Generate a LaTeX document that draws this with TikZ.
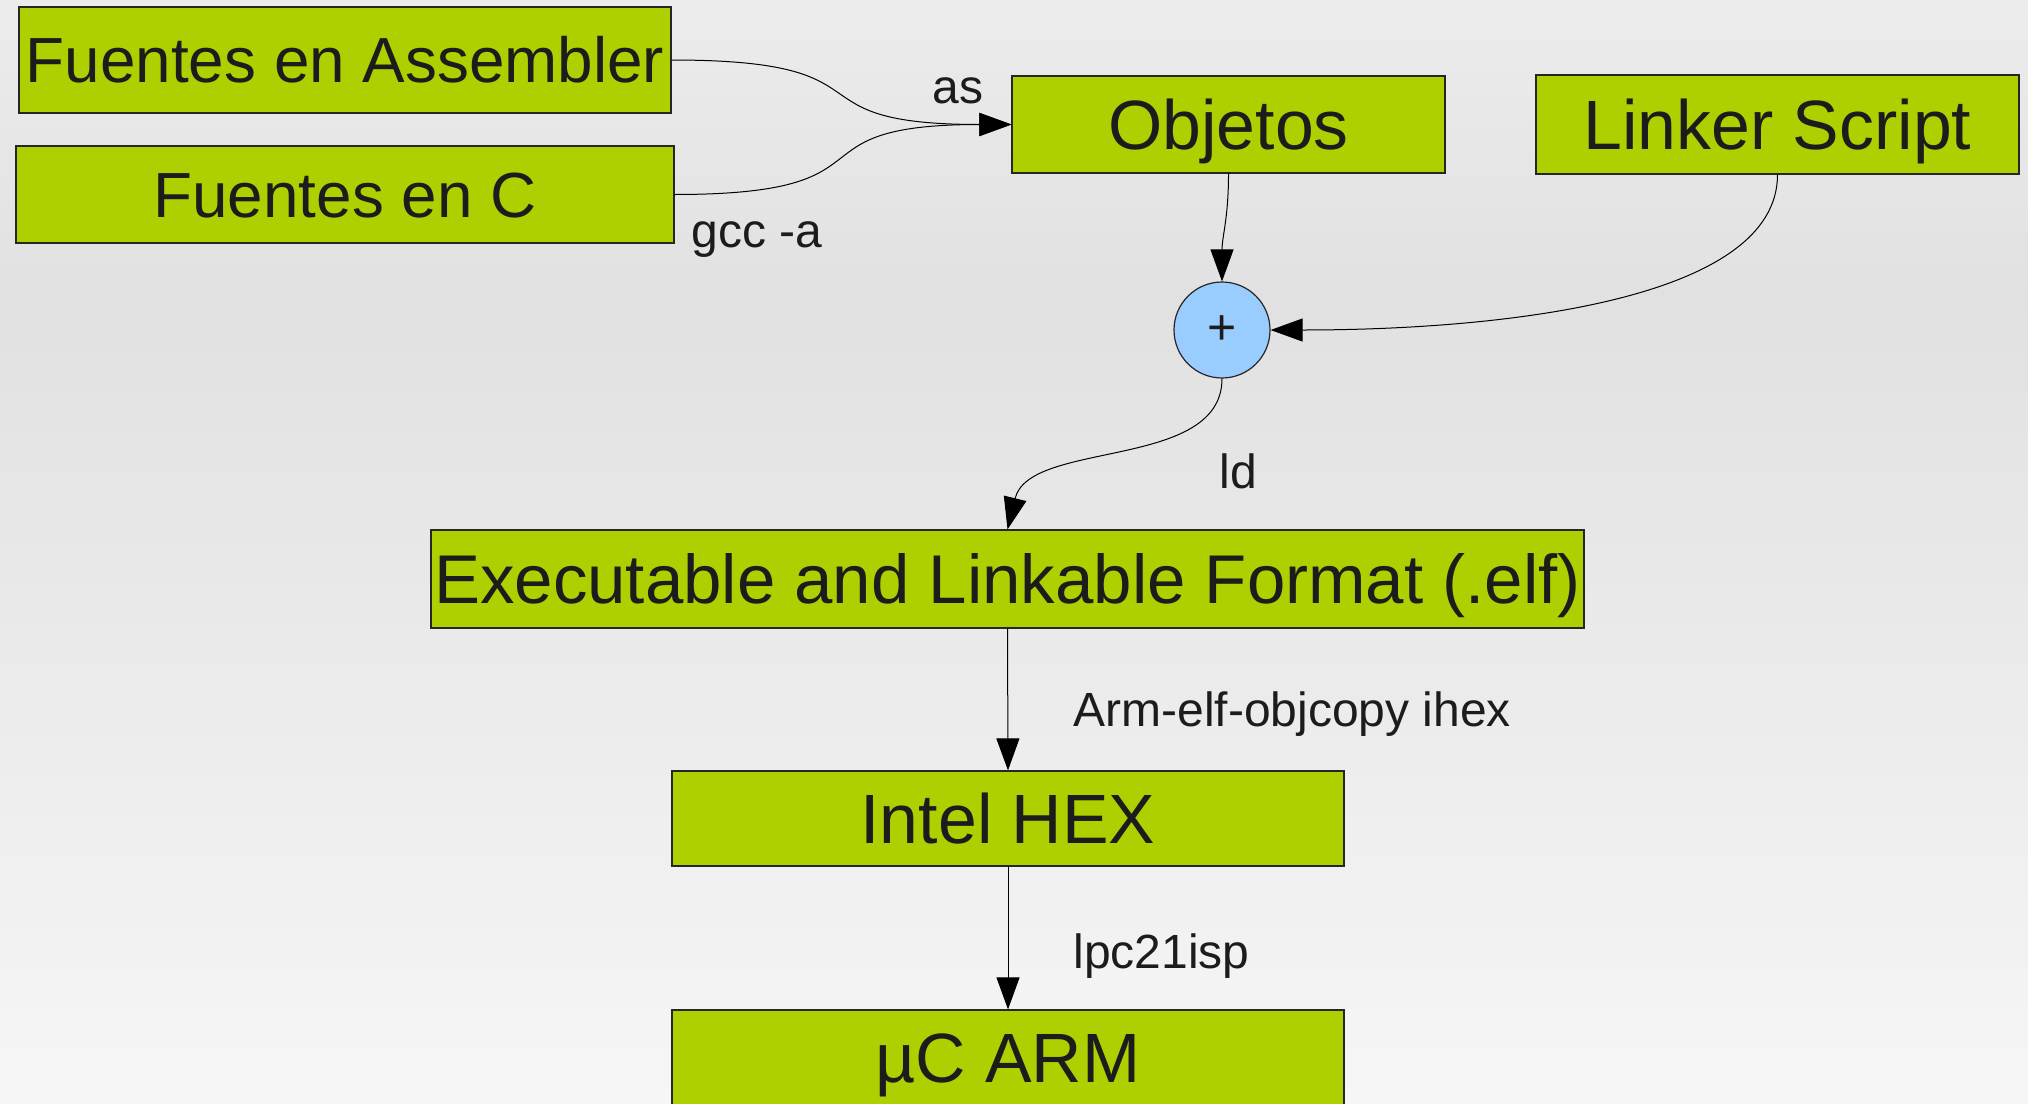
\documentclass[tikz,border=0pt]{standalone}
\usepackage{fontspec}
\setmainfont{Liberation Sans}
\usetikzlibrary{arrows.meta}
\definecolor{boxgreen}{HTML}{AFD000}
\definecolor{circblue}{HTML}{99CCFF}
\definecolor{txt}{HTML}{1C1C1C}
\definecolor{bgtop}{HTML}{ECECEC}
\definecolor{bgmid}{HTML}{E1E1E1}
\definecolor{bgbot}{HTML}{F6F6F6}
\tikzset{
  box/.style={draw=black!85, line width=0.6pt, fill=boxgreen, text=txt, inner sep=0pt,
    rectangle, text depth=0pt},
  bigtxt/.style={font=\fontsize{34.9}{40}\selectfont, text height=24.9pt},
  elftxt/.style={font=\fontsize{34.5}{40}\selectfont, text height=24.7pt},
  midtxt/.style={font=\fontsize{31.9}{37}\selectfont, text height=22.7pt},
  lbl/.style={font=\fontsize{24}{28}\selectfont, text=txt, inner sep=0pt},
  conn/.style={draw=black, line width=0.5pt, -{Triangle[length=16pt,width=11.5pt]}},
}
\begin{document}
\begin{tikzpicture}[x=0.5pt,y=-0.5pt]
\useasboundingbox (0,0) rectangle (2028,1103);
\clip (0,0) rectangle (2028,1103);
\fill[top color=bgtop, bottom color=bgmid] (0,0) rectangle (2028,300);
\fill[top color=bgmid, bottom color=bgbot] (0,299) rectangle (2028,1103);

% boxes
\node[box, midtxt, minimum width=326pt, minimum height=53pt] (asm) at (345,60) {Fuentes en Assembler};
\node[box, midtxt, minimum width=329pt, minimum height=48.5pt] (csrc) at (345,194.5) {Fuentes en C};
\node[box, bigtxt, minimum width=216.5pt, minimum height=48.5pt] (obj) at (1228.5,124.5) {Objetos};
\node[box, bigtxt, minimum width=241.5pt, minimum height=49.5pt] (lnk) at (1777.5,124.5) {Linker Script};
\node[circle, draw=black!85, line width=0.6pt, fill=circblue, text=txt, inner sep=0pt,
  minimum size=48pt, font=\fontsize{25}{28}\selectfont] (plus) at (1222,330) {+};
\node[box, elftxt, minimum width=576.5pt, minimum height=49pt] (elf) at (1007.5,579) {Executable and Linkable Format (.elf)};
\node[box, bigtxt, minimum width=336pt, minimum height=47.5pt] (hex) at (1008,818.5) {Intel HEX};
\node[box, bigtxt, minimum width=336pt, minimum height=47.5pt] (arm) at (1008,1057.5) {µC ARM};

% labels
\node[lbl, anchor=base west] (las) at (932,103) {as};
\node[lbl, anchor=base west] (lgcc) at (691,247) {gcc -a};
\node[lbl, anchor=base west] (lld) at (1219,488) {ld};
\node[lbl, anchor=base west] (lobj) at (1073,726) {Arm-elf-objcopy ihex};
\node[lbl, anchor=base west] (lisp) at (1073,968) {lpc21isp};

% connectors
\draw[conn] (asm.east) .. controls +(230,0) and +(-230,0) .. (obj.west);
\draw[conn] (csrc.east) .. controls +(230,0) and +(-230,0) .. (obj.west);
\draw[conn] (obj.south) .. controls +(0,45) and +(0,-45) .. (plus.north);
\draw[conn] (lnk.south) .. controls +(0,126) and +(230,0) .. (plus.east);
\draw[conn] (plus.south) .. controls +(0,92) and +(22,-90) .. (elf.north);
\draw[conn] (elf.south) -- (hex.north);
\draw[conn] (hex.south) -- (arm.north);
\end{tikzpicture}
\end{document}
